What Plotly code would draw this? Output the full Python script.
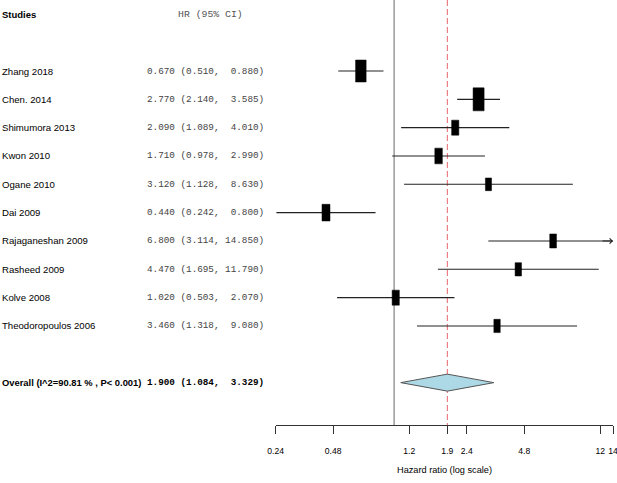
import math
import plotly.graph_objects as go

# ---------------- data ----------------
studies = ["Zhang 2018", "Chen. 2014", "Shimumora 2013", "Kwon 2010", "Ogane 2010",
           "Dai 2009", "Rajaganeshan 2009", "Rasheed 2009", "Kolve 2008",
           "Theodoropoulos 2006"]
hr = [0.670, 2.770, 2.090, 1.710, 3.120, 0.440, 6.800, 4.470, 1.020, 3.460]
ci_low = [0.510, 2.140, 1.089, 0.978, 1.128, 0.242, 3.114, 1.695, 0.503, 1.318]
ci_high = [0.880, 3.585, 4.010, 2.990, 8.630, 0.800, 14.850, 11.790, 2.070, 9.080]
overall_label = "Overall (I^2=90.81 % , P< 0.001)"
overall_hr = 1.900
overall_low = 1.084
overall_high = 3.329
tick_vals = [0.24, 0.48, 1.2, 1.9, 2.4, 4.8, 12, 14]
tick_text = ["0.24", "0.48", "1.2", "1.9", "2.4", "4.8", "12", "14"]

# ---------------- style ----------------
box_px = [22, 23, 15, 15.7, 12.7, 16.7, 14, 13.3, 15, 13.3]  # box heights in px
W, H = 617, 483
X_L, X_R = 275.7, 613.0
AXIS_Y = 425
ROW0, ROW_H = 71.0, 28.33
XMIN, XMAX = tick_vals[0], tick_vals[-1]
PX_PER_DEC = (X_R - X_L) / (math.log10(XMAX) - math.log10(XMIN))
Y_TOP = (0 - ROW0) / ROW_H
Y_BOT = (AXIS_Y - ROW0) / ROW_H

SANS = "Liberation Sans, Arial, sans-serif"
MONO = "Liberation Mono, Courier New, monospace"

rows = list(range(len(studies)))
overall_row = len(studies) + 1
header_row = -2

fig = go.Figure()

# reference lines
fig.add_trace(go.Scatter(x=[1, 1], y=[Y_TOP, Y_BOT], mode="lines",
                         line=dict(color="#666666", width=1), hoverinfo="skip"))
fig.add_trace(go.Scatter(x=[overall_hr, overall_hr], y=[Y_TOP, Y_BOT], mode="lines",
                         line=dict(color="#e8646e", width=1, dash="6px,3px"),
                         hoverinfo="skip"))

# CI lines
cx, cy = [], []
for r, lo, hi in zip(rows, ci_low, ci_high):
    cx += [max(lo, XMIN), min(hi, XMAX), None]
    cy += [r, r, None]
fig.add_trace(go.Scatter(x=cx, y=cy, mode="lines",
                         line=dict(color="#222222", width=1.1), hoverinfo="skip"))

# boxes
bx, by = [], []
for r, h, s in zip(rows, hr, box_px):
    hw = 0.48 * s / 2 / PX_PER_DEC
    hh = s / 2 / ROW_H
    f = 10 ** hw
    bx += [h / f, h * f, h * f, h / f, h / f, None]
    by += [r - hh, r - hh, r + hh, r + hh, r - hh, None]
fig.add_trace(go.Scatter(x=bx, y=by, mode="lines", fill="toself",
                         fillcolor="black", line=dict(color="black", width=0.5),
                         hoverinfo="skip"))

# diamond
dh = 8.5 / ROW_H
fig.add_trace(go.Scatter(
    x=[overall_low, overall_hr, overall_high, overall_hr, overall_low],
    y=[overall_row, overall_row - dh, overall_row, overall_row + dh, overall_row],
    mode="lines", fill="toself", fillcolor="#add8e6",
    line=dict(color="#555555", width=1), hoverinfo="skip"))

ann = []
# arrow for clipped CI
for r, hi in zip(rows, ci_high):
    if hi > XMAX:
        ann.append(dict(x=math.log10(XMAX), y=r, xref="x", yref="y", text="",
                        showarrow=True, ax=-12, ay=0, arrowhead=4, arrowsize=1,
                        arrowwidth=1, arrowcolor="#222222", standoff=0))

# text columns
ann.append(dict(x=0, y=header_row, xref="paper", yref="y", text="<b>Studies</b>",
                showarrow=False, xanchor="left", yanchor="middle",
                font=dict(family=SANS, size=9.5, color="black")))
ann.append(dict(x=210.5 / W, y=header_row, xref="paper", yref="y", text="HR (95% CI)",
                showarrow=False, xanchor="center", yanchor="middle",
                font=dict(family=MONO, size=9.8, color="#555555")))
for r, name, h, lo, hi in zip(rows, studies, hr, ci_low, ci_high):
    ann.append(dict(x=0, y=r, xref="paper", yref="y", text=name, showarrow=False,
                    xanchor="left", yanchor="middle",
                    font=dict(family=SANS, size=9.6, color="black")))
    txt = f"{h:.3f} ({lo:.3f}, {hi:6.3f})".replace(" ", "&nbsp;")
    ann.append(dict(x=265.5 / W, y=r, xref="paper", yref="y", text=txt, showarrow=False,
                    xanchor="right", yanchor="middle",
                    font=dict(family=MONO, size=9.3, color="#444444")))
ann.append(dict(x=0, y=overall_row, xref="paper", yref="y",
                text=f"<b>{overall_label}</b>", showarrow=False,
                xanchor="left", yanchor="middle",
                font=dict(family=SANS, size=9.4, color="black")))
otxt = f"{overall_hr:.3f} ({overall_low:.3f}, {overall_high:6.3f})".replace(" ", "&nbsp;")
ann.append(dict(x=265.5 / W, y=overall_row, xref="paper", yref="y",
                text=f"<b>{otxt}</b>", showarrow=False,
                xanchor="right", yanchor="middle",
                font=dict(family=MONO, size=9.3, color="black")))
# axis title
ann.append(dict(x=(X_L + X_R) / 2 / W, y=-(470 - AXIS_Y) / (H - 58), xref="paper",
                yref="paper", text="Hazard ratio (log scale)", showarrow=False,
                xanchor="center", yanchor="middle",
                font=dict(family=SANS, size=9.2, color="black")))

fig.update_layout(
    width=W, height=H,
    margin=dict(l=0, r=0, t=0, b=H - AXIS_Y, pad=0, autoexpand=False),
    paper_bgcolor="white", plot_bgcolor="white", showlegend=False,
    annotations=ann,
    xaxis=dict(type="log", domain=[X_L / W, X_R / W], automargin=False,
               range=[math.log10(XMIN), math.log10(XMAX)],
               tickvals=tick_vals, ticktext=tick_text, ticks="outside", ticklen=8,
               tickcolor="#333333", showline=True, linecolor="#333333", linewidth=1,
               showgrid=False, zeroline=False, ticklabelstandoff=10,
               ticklabeloverflow="allow",
               tickfont=dict(family=SANS, size=8.6, color="black")),
    yaxis=dict(range=[Y_BOT, Y_TOP], visible=False, showgrid=False, zeroline=False,
               automargin=False),
)

fig.write_html("out.html", config={"displayModeBar": False},
               post_script="document.body.style.margin='0';")
